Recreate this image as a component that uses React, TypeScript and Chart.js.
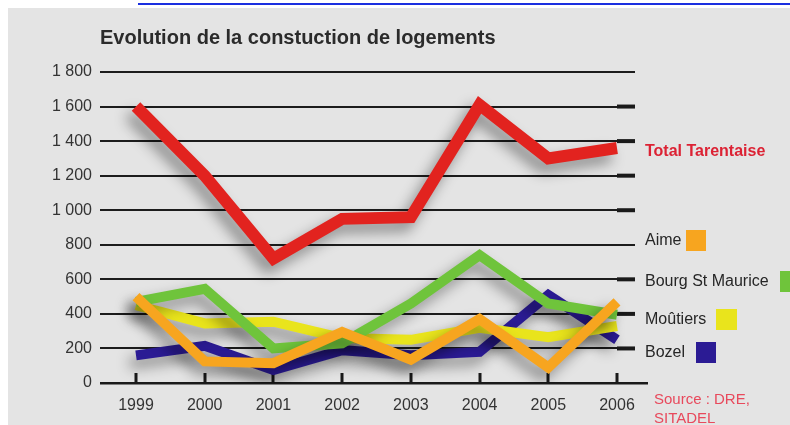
import React, { useEffect, useRef } from "react";
import { Chart, registerables } from "chart.js";

Chart.register(...registerables);

const TITLE = "Evolution de la constuction de logements";
const YEARS = [1999, 2000, 2001, 2002, 2003, 2004, 2005, 2006];
const Y_TICKS = [0, 200, 400, 600, 800, 1000, 1200, 1400, 1600, 1800];
const TOTAL = [1600, 1200, 720, 950, 960, 1610, 1300, 1360];
const AIME = [500, 125, 115, 295, 135, 370, 90, 470];
const BOURG = [470, 545, 200, 230, 460, 740, 460, 395];
const MOUTIERS = [450, 345, 355, 260, 250, 320, 265, 330];
const BOZEL = [160, 215, 75, 190, 160, 180, 510, 250];
const NAMES = ["Total Tarentaise", "Aime", "Bourg St Maurice", "Moûtiers", "Bozel"];
const SOURCE = ["Source : DRE,", "SITADEL"];
const THICK_MARKS = [1600, 1400, 1200, 1000, 600, 400, 200];

const RED = "#e2231f";
const ORANGE = "#f7a51f";
const GREEN = "#6fc43b";
const YELLOW = "#e9e41c";
const BLUE = "#2b1b94";

const FONT = "'Liberation Sans', Arial, sans-serif";

const fmt = (v: number) =>
  v >= 1000 ? `${Math.floor(v / 1000)} ${String(v % 1000).padStart(3, "0")}` : String(v);

const pts = (vals: number[]) => YEARS.map((y, i) => ({ x: y, y: vals[i] }));

const decorPlugin = {
  id: "decor",
  beforeDatasetsDraw(chart: any) {
    const { ctx, chartArea, scales } = chart;
    const xs = scales.x;
    const ys = scales.y;
    ctx.save();
    ctx.fillStyle = "#1a1a1a";
    // year tick marks
    YEARS.forEach((yr) => {
      const x = xs.getPixelForValue(yr);
      ctx.fillRect(Math.round(x) - 1.5, chartArea.bottom - 10, 3, 10);
    });
    // thicker right segments
    THICK_MARKS.forEach((v) => {
      const y = ys.getPixelForValue(v);
      ctx.fillRect(chartArea.right - 18, y - 2, 18, 4);
    });
    // bottom axis line
    ctx.fillRect(chartArea.left, chartArea.bottom - 1, chartArea.right - chartArea.left + 13, 2.5);
    ctx.restore();
    ctx.save();
    ctx.shadowColor = "rgba(0,0,0,0.42)";
    ctx.shadowBlur = 14;
    ctx.shadowOffsetX = -6;
    ctx.shadowOffsetY = 8;
  },
  afterDatasetsDraw(chart: any) {
    chart.ctx.restore();
  },
  afterDraw(chart: any) {
    const { ctx, chartArea } = chart;
    ctx.save();
    // title
    ctx.fillStyle = "#2b2b2b";
    ctx.font = `bold 20px ${FONT}`;
    ctx.textBaseline = "middle";
    ctx.textAlign = "left";
    ctx.fillText(TITLE, chartArea.left, 30);

    const lx = chartArea.right + 10;
    // Total Tarentaise
    ctx.fillStyle = "#dc2234";
    ctx.font = `bold 16px ${FONT}`;
    ctx.fillText(NAMES[0], lx, 144);

    ctx.font = `16px ${FONT}`;
    const rows = [
      { name: NAMES[1], y: 233, color: ORANGE, sx: 678, sw: 20 },
      { name: NAMES[2], y: 274, color: GREEN, sx: 772, sw: 20 },
      { name: NAMES[3], y: 312, color: YELLOW, sx: 708, sw: 21 },
      { name: NAMES[4], y: 345, color: BLUE, sx: 688, sw: 20 },
    ];
    rows.forEach((r) => {
      ctx.fillStyle = "#262626";
      ctx.fillText(r.name, lx, r.y);
      ctx.fillStyle = r.color;
      ctx.fillRect(r.sx, r.y - 11, r.sw, 21);
    });

    // source
    ctx.fillStyle = "#e8495c";
    ctx.font = `15px ${FONT}`;
    ctx.fillText(SOURCE[0], lx + 9, 392);
    ctx.fillText(SOURCE[1], lx + 9, 411);
    ctx.restore();
  },
};

export default function App() {
  const ref = useRef<HTMLCanvasElement | null>(null);

  useEffect(() => {
    if (!ref.current) return;
    const common = {
      pointRadius: 0,
      pointHoverRadius: 0,
      tension: 0,
      borderJoinStyle: "miter" as const,
      borderCapStyle: "butt" as const,
      fill: false,
    };
    const chart = new Chart(ref.current, {
      type: "line",
      data: {
        datasets: [
          { ...common, label: NAMES[0], data: pts(TOTAL), borderColor: RED, borderWidth: 12 },
          { ...common, label: NAMES[1], data: pts(AIME), borderColor: ORANGE, borderWidth: 10 },
          { ...common, label: NAMES[2], data: pts(BOURG), borderColor: GREEN, borderWidth: 10 },
          { ...common, label: NAMES[3], data: pts(MOUTIERS), borderColor: YELLOW, borderWidth: 10 },
          { ...common, label: NAMES[4], data: pts(BOZEL), borderColor: BLUE, borderWidth: 10 },
        ],
      },
      options: {
        responsive: false,
        animation: false,
        devicePixelRatio: 1,
        layout: { padding: { left: 8, right: 155, top: 64, bottom: 0 } },
        plugins: {
          legend: { display: false },
          title: { display: false },
          tooltip: { enabled: false },
        },
        scales: {
          x: {
            type: "linear",
            min: 1998.476,
            max: 2006.262,
            afterBuildTicks: (axis: any) => {
              axis.ticks = YEARS.map((v) => ({ value: v }));
            },
            afterFit: (s: any) => {
              s.height = 42;
            },
            grid: { display: false, drawTicks: false },
            border: { display: false },
            ticks: {
              font: { family: FONT, size: 16 },
              color: "#333333",
              padding: 13,
              maxRotation: 0,
              autoSkip: false,
              callback: (v: any) => String(v),
            },
          },
          y: {
            min: 0,
            max: 1800,
            afterBuildTicks: (axis: any) => {
              axis.ticks = Y_TICKS.map((v) => ({ value: v }));
            },
            afterFit: (s: any) => {
              s.width = 84;
            },
            grid: { color: "#1c1c1c", lineWidth: 2, drawTicks: false },
            border: { display: false },
            ticks: {
              font: { family: FONT, size: 16 },
              color: "#333333",
              padding: 8,
              callback: (v: any) => fmt(Number(v)),
            },
          },
        },
      },
      plugins: [decorPlugin],
    });
    return () => chart.destroy();
  }, []);

  return (
    <div style={{ position: "fixed", left: 0, top: 0, width: 790, height: 425, background: "#ffffff", overflow: "hidden" }}>
      <div style={{ position: "absolute", left: 138, top: 3, width: 652, height: 2, background: "#1a2fe0" }} />
      <div style={{ position: "absolute", left: 8, top: 8, width: 782, height: 417, background: "#e4e4e4" }}>
        <canvas ref={ref} width={782} height={417} style={{ display: "block", width: 782, height: 417 }} />
      </div>
    </div>
  );
}
